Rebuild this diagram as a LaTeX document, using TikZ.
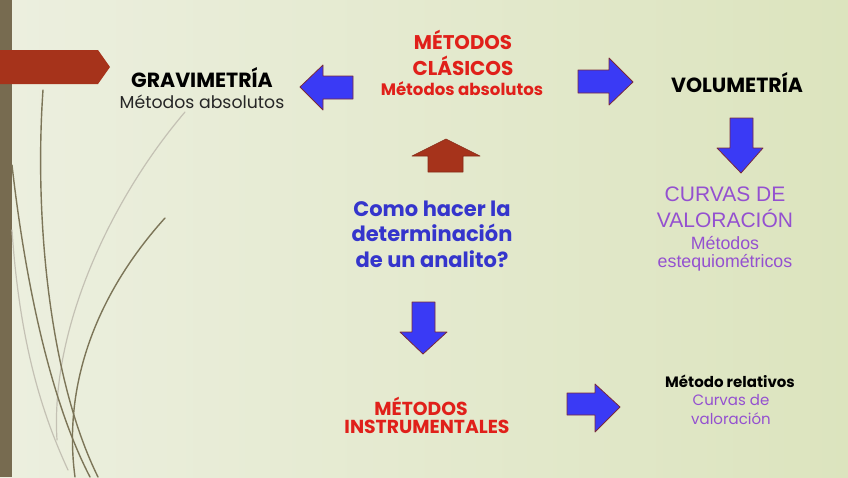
\documentclass[tikz,border=0pt]{standalone}
\usepackage{fontspec}
\setmainfont{Poppins}
\newfontfamily\arialfont{Liberation Sans}
\usetikzlibrary{positioning}

\definecolor{bgleft}{HTML}{ECEFDF}
\definecolor{bgmid}{HTML}{F7F7F0}
\definecolor{bgright}{HTML}{DCE4BE}
\definecolor{barbrown}{HTML}{776B50}
\definecolor{tabred}{HTML}{A6331B}
\definecolor{stem}{HTML}{7C7558}
\definecolor{arrowblue}{HTML}{3A3AF5}
\definecolor{arrowedge}{HTML}{7A2A3A}
\definecolor{titlered}{HTML}{E0201A}
\definecolor{askblue}{HTML}{3535CC}
\definecolor{curvepurple}{HTML}{9450D0}

\begin{document}
\begin{tikzpicture}[x=1pt,y=-1pt,line cap=round,line join=round,
  every node/.style={inner sep=0pt,anchor=center},
  blockarrow/.style={fill=arrowblue,draw=arrowedge,line width=0.8pt},
  stemline/.style={draw=stem,line width=1.4pt},
  faintstem/.style={draw=stem!45,line width=1.2pt},
  blacktitle/.style={font=\bfseries\fontsize{20.5}{24}\selectfont,text=black},
  redtitle/.style={font=\bfseries\fontsize{20}{24}\selectfont,text=titlered},
  asktext/.style={font=\bfseries\fontsize{21}{24}\selectfont,text=askblue}]
  \useasboundingbox (0,0) rectangle (848,477);
  % ---- background ----------------------------------------------------------
  \shade[left color=bgleft,middle color=bgmid,right color=bgright]
    (0,0) rectangle (848,477);
  \fill[barbrown] (0,0) rectangle (12,477);
  \fill[tabred] (0,50) -- (98,50) -- (110,67) -- (98,84) -- (0,84) -- cycle;
  % ---- stems ---------------------------------------------------------------
  \draw[faintstem] (185,112) .. controls (110,200) and (50,330) .. (57,440);
  \draw[faintstem] (12,230) .. controls (20,350) and (45,420) .. (68,470);
  \draw[stemline] (43,90) .. controls (34,220) and (50,380) .. (98,477);
  \draw[stemline] (12,165) .. controls (25,280) and (50,400) .. (90,477);
  \draw[stemline] (165,218) .. controls (100,290) and (62,380) .. (75,477);
  % ---- top row -------------------------------------------------------------
  \node[blacktitle] (gravi) at (202,78) {GRAVIMETRÍA};
  \node[font=\fontsize{17.3}{20}\selectfont,text=black!85] (gravisub) at (202,102)
    {Métodos absolutos};
  \node[redtitle,font=\bfseries\fontsize{19.8}{24}\selectfont] (clasicos1)
    at (463,40) {MÉTODOS};
  \node[redtitle] (clasicos2) at (463,66) {CLÁSICOS};
  \node[font=\bfseries\fontsize{16.6}{19}\selectfont,text=titlered] (clasicos3)
    at (462,89) {Métodos absolutos};
  \node[blacktitle] (volu) at (737,83) {VOLUMETRÍA};
  % left and right block arrows
  \draw[blockarrow] (300,87) -- (323,65) -- (323,76) -- (353,76) -- (353,99)
    -- (323,99) -- (323,110) -- cycle;
  \draw[blockarrow] (633,82) -- (609,58) -- (609,70) -- (578,70) -- (578,93)
    -- (609,93) -- (609,105) -- cycle;
  % up arrow
  \draw[fill=tabred,draw=tabred!80!black,line width=0.6pt] (446,139) -- (480,156)
    -- (463,156) -- (463,172) -- (428,172) -- (428,156) -- (412,156) -- cycle;
  % ---- right column --------------------------------------------------------
  \draw[blockarrow] (741,173) -- (763,148) -- (753,148) -- (753,118) -- (730,118)
    -- (730,148) -- (717,148) -- cycle;
  \node[font=\arialfont\fontsize{21}{24}\selectfont,text=curvepurple] (curvas1)
    at (725,194) {CURVAS DE};
  \node[font=\arialfont\fontsize{21}{24}\selectfont,text=curvepurple] (curvas2)
    at (725,218) {VALORACIÓN};
  \node[font=\arialfont\fontsize{17.8}{20}\selectfont,text=curvepurple] (curvas3)
    at (725,243) {Métodos};
  \node[font=\arialfont\fontsize{17.8}{20}\selectfont,text=curvepurple] (curvas4)
    at (725,263) {estequiométricos};
  % ---- question ------------------------------------------------------------
  \node[asktext] (pregunta1) at (432,209) {Como hacer la};
  \node[asktext] (pregunta2) at (432,233) {determinación};
  \node[asktext] (pregunta3) at (432,259) {de un analito?};
  % ---- bottom row ----------------------------------------------------------
  \draw[blockarrow] (423,354) -- (447,332) -- (435,332) -- (435,302) -- (412,302)
    -- (412,332) -- (400,332) -- cycle;
  \node[redtitle,font=\bfseries\fontsize{18.8}{22}\selectfont] (instru1)
    at (421,406) {MÉTODOS};
  \node[redtitle,font=\bfseries\fontsize{18.8}{22}\selectfont] (instru2)
    at (427,427) {INSTRUMENTALES};
  \draw[blockarrow] (620,407) -- (595,384) -- (595,393) -- (567,393) -- (567,415)
    -- (595,415) -- (595,432) -- cycle;
  \node[font=\bfseries\fontsize{15}{18}\selectfont,text=black] (relativos1)
    at (730,381) {Método relativos};
  \node[font=\fontsize{15}{18}\selectfont,text=curvepurple] (relativos2)
    at (731,400) {Curvas de};
  \node[font=\fontsize{15}{18}\selectfont,text=curvepurple] (relativos3)
    at (731,419) {valoración};
\end{tikzpicture}
\end{document}
